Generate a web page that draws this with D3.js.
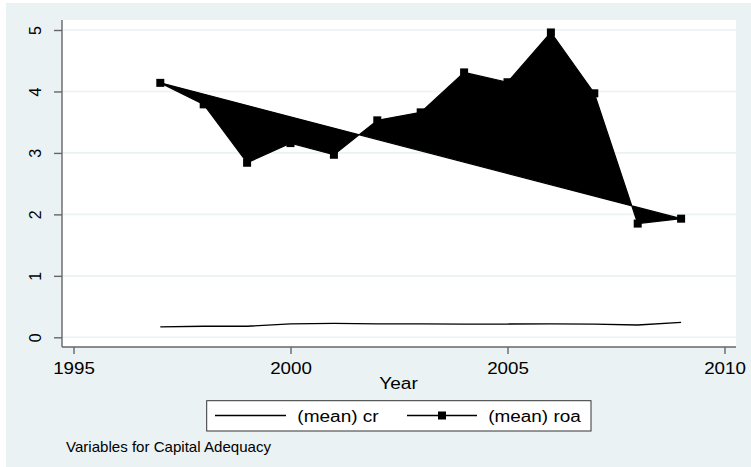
<!DOCTYPE html>
<html>
<head>
<meta charset="utf-8">
<script src="https://cdn.jsdelivr.net/npm/d3@7"></script>
<style>
  html, body { margin: 0; padding: 0; background: #ffffff; }
  svg { display: block; }
  text { font-family: "Liberation Sans", Arial, sans-serif; fill: #000; }
</style>
</head>
<body>
<svg id="chart" width="751" height="467"></svg>
<script>
// Yearly means
const years = [1997, 1998, 1999, 2000, 2001, 2002, 2003, 2004, 2005, 2006, 2007, 2008, 2009];
const roa = [4.14, 3.79, 2.84, 3.16, 2.97, 3.53, 3.66, 4.31, 4.15, 4.96, 3.97, 1.85, 1.93];
const cr = [0.17, 0.18, 0.18, 0.22, 0.225, 0.22, 0.22, 0.216, 0.216, 0.22, 0.216, 0.20, 0.244];

const xTicks = [1995, 2000, 2005, 2010];
const yTicks = [0, 1, 2, 3, 4, 5];
const seriesNames = ["(mean) cr", "(mean) roa"];
const xTitle = "Year";
const noteText = "Variables for Capital Adequacy";

const bgColor = "#eaf2f3";
const svg = d3.select("#chart");

// graph region
svg.append("rect").attr("x", 6).attr("y", 3).attr("width", 745).attr("height", 464).attr("fill", bgColor);

// plot region
const plot = { left: 62, right: 736, top: 20, bottom: 347 };
svg.append("rect")
  .attr("x", plot.left).attr("y", plot.top)
  .attr("width", plot.right - plot.left).attr("height", plot.bottom - plot.top)
  .attr("fill", "#ffffff");

const x = d3.scaleLinear().domain([1995, 2010]).range([73.5, 724.5]);
const y = d3.scaleLinear().domain([0, 5]).range([337.3, 30]);

// horizontal grid lines
svg.append("g").selectAll("line").data(yTicks).join("line")
  .attr("x1", plot.left).attr("x2", plot.right)
  .attr("y1", d => y(d)).attr("y2", d => y(d))
  .attr("stroke", bgColor).attr("stroke-width", 1.6);

// y axis
const yAxis = svg.append("g")
  .attr("transform", `translate(${plot.left},0)`)
  .call(d3.axisLeft(y).tickValues(yTicks).tickSize(8).tickSizeOuter(0).tickFormat(d3.format("d")));
yAxis.select(".domain").attr("d", `M0,${plot.top}V${plot.bottom}`);
yAxis.selectAll(".domain, .tick line").attr("stroke", "#666").attr("stroke-width", 1.4);
yAxis.selectAll(".tick text")
  .attr("x", null).attr("dy", null)
  .attr("font-size", 16)
  .attr("text-anchor", "middle")
  .attr("transform", "translate(-21,0) rotate(-90)");

// x axis
const xAxis = svg.append("g")
  .attr("transform", `translate(0,${plot.bottom})`)
  .call(d3.axisBottom(x).tickValues(xTicks).tickSize(7).tickSizeOuter(0).tickFormat(d3.format("d")));
xAxis.select(".domain").attr("d", `M${plot.left},0H${plot.right}`);
xAxis.selectAll(".domain, .tick line").attr("stroke", "#666").attr("stroke-width", 1.4);
xAxis.selectAll(".tick text")
  .attr("y", 26.5).attr("dy", null)
  .attr("font-size", 16)
  .attr("text-anchor", "middle")
  .attr("textLength", 41.7).attr("lengthAdjust", "spacingAndGlyphs");

// axis title
svg.append("text")
  .attr("x", 398.5).attr("y", 389)
  .attr("font-size", 16).attr("text-anchor", "middle")
  .attr("textLength", 38.5).attr("lengthAdjust", "spacingAndGlyphs")
  .text(xTitle);

// cr series: plain line
const crPts = years.map((yr, i) => [x(yr), y(cr[i])]);
svg.append("path")
  .attr("d", d3.line()(crPts))
  .attr("fill", "none").attr("stroke", "#000").attr("stroke-width", 1.3);

// roa series: connected line, closed and filled
const roaPts = years.map((yr, i) => [x(yr), y(roa[i])]);
svg.append("path")
  .attr("d", d3.line()(roaPts) + "Z")
  .attr("fill", "#000").attr("stroke", "#000").attr("stroke-width", 1.2)
  .attr("stroke-linejoin", "round");

const ms = 8;
svg.append("g").selectAll("rect").data(roaPts).join("rect")
  .attr("x", d => d[0] - ms / 2).attr("y", d => d[1] - ms / 2)
  .attr("width", ms).attr("height", ms).attr("fill", "#000");

// legend
const lg = svg.append("g");
lg.append("rect")
  .attr("x", 206.7).attr("y", 400.7).attr("width", 384.3).attr("height", 30.3)
  .attr("fill", "#fff").attr("stroke", "#333").attr("stroke-width", 1);
const legendY = 415.5;
lg.append("line").attr("x1", 215).attr("x2", 286).attr("y1", legendY).attr("y2", legendY)
  .attr("stroke", "#000").attr("stroke-width", 1.3);
lg.append("text").attr("x", 297.3).attr("y", 421.5).attr("font-size", 16)
  .attr("textLength", 81.4).attr("lengthAdjust", "spacingAndGlyphs")
  .text(seriesNames[0]);
lg.append("line").attr("x1", 407).attr("x2", 477).attr("y1", legendY).attr("y2", legendY)
  .attr("stroke", "#000").attr("stroke-width", 1.3);
lg.append("rect").attr("x", 442 - ms / 2).attr("y", legendY - ms / 2)
  .attr("width", ms).attr("height", ms).attr("fill", "#000");
lg.append("text").attr("x", 488.3).attr("y", 421.5).attr("font-size", 16)
  .attr("textLength", 92.4).attr("lengthAdjust", "spacingAndGlyphs")
  .text(seriesNames[1]);

// note
svg.append("text")
  .attr("x", 66).attr("y", 452.3).attr("font-size", 14.5)
  .attr("textLength", 205).attr("lengthAdjust", "spacingAndGlyphs")
  .text(noteText);
</script>
</body>
</html>
